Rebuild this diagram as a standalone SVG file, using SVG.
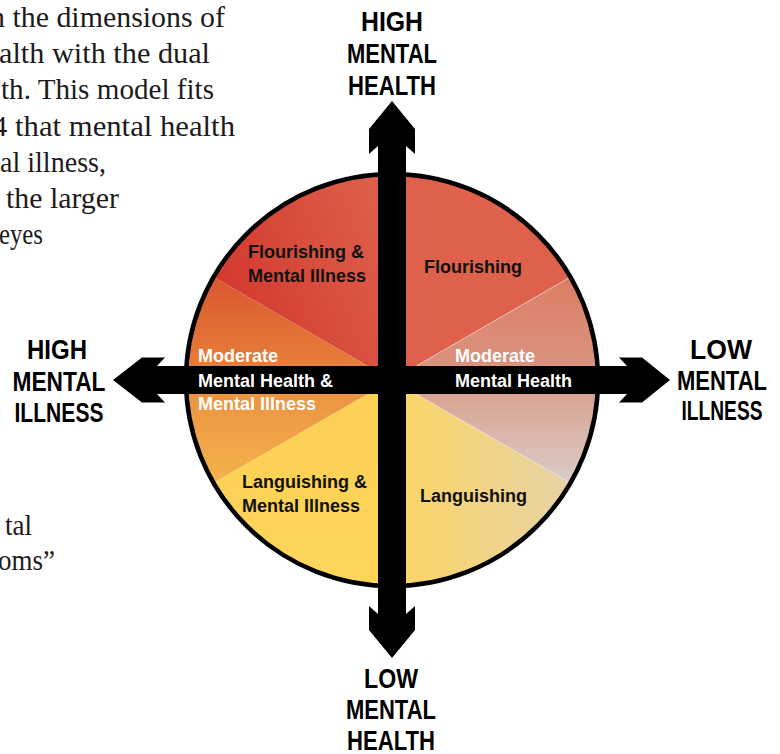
<svg xmlns="http://www.w3.org/2000/svg" width="780" height="754" viewBox="0 0 780 754">
  <defs>
    <linearGradient id="gFlourMI" gradientUnits="userSpaceOnUse" x1="214" y1="300" x2="392" y2="230">
      <stop offset="0" stop-color="#D3372D"/>
      <stop offset="1" stop-color="#DD5F4B"/>
    </linearGradient>
    <linearGradient id="gModUL" gradientUnits="userSpaceOnUse" x1="0" y1="277" x2="0" y2="380">
      <stop offset="0" stop-color="#DA5630"/>
      <stop offset="1" stop-color="#E8853B"/>
    </linearGradient>
    <linearGradient id="gModLL" gradientUnits="userSpaceOnUse" x1="0" y1="380" x2="0" y2="483">
      <stop offset="0" stop-color="#EA8F40"/>
      <stop offset="1" stop-color="#F4B34C"/>
    </linearGradient>
    <linearGradient id="gLangMI" gradientUnits="userSpaceOnUse" x1="0" y1="420" x2="0" y2="586">
      <stop offset="0" stop-color="#FCD055"/>
      <stop offset="1" stop-color="#FDD65A"/>
    </linearGradient>
    <linearGradient id="gLang" gradientUnits="userSpaceOnUse" x1="392" y1="0" x2="590" y2="0">
      <stop offset="0" stop-color="#FCD563"/>
      <stop offset="1" stop-color="#E4D2AD"/>
    </linearGradient>
    <linearGradient id="gModLR" gradientUnits="userSpaceOnUse" x1="0" y1="380" x2="0" y2="483">
      <stop offset="0" stop-color="#D99D89"/>
      <stop offset="1" stop-color="#DBCCC8"/>
    </linearGradient>
    <linearGradient id="gModUR" gradientUnits="userSpaceOnUse" x1="0" y1="277" x2="0" y2="380">
      <stop offset="0" stop-color="#DC7D65"/>
      <stop offset="1" stop-color="#DA9682"/>
    </linearGradient>
    <style>
      .body { font-family: "Liberation Serif", "Times New Roman", serif; font-size: 29px; fill: #1E1B1C; }
      .axis { font-family: "Liberation Sans", Arial, sans-serif; font-weight: bold; font-size: 27px; fill: #000; text-anchor: middle; }
      .zone { font-family: "Liberation Sans", Arial, sans-serif; font-weight: bold; font-size: 18px; fill: #111; }
      .zone.light { fill: #FFFFFF; }
      .seam { stroke: #F3E6E0; stroke-width: 0.8; stroke-opacity: 0.7; }
    </style>
  </defs>

  <!-- running text of the page, cut off at the left margin -->
  <g id="body-text" class="body">
    <text x="-10" y="27" textLength="235" lengthAdjust="spacingAndGlyphs">n the dimensions of</text>
    <text x="-1" y="63" textLength="211" lengthAdjust="spacingAndGlyphs">alth with the dual</text>
    <text x="1" y="99" textLength="213" lengthAdjust="spacingAndGlyphs">th. This model fits</text>
    <text x="-8" y="136" textLength="243" lengthAdjust="spacingAndGlyphs">4 that mental health</text>
    <text x="0" y="172" textLength="106" lengthAdjust="spacingAndGlyphs">al illness,</text>
    <text x="6" y="208" textLength="113" lengthAdjust="spacingAndGlyphs">the larger</text>
    <text x="-1" y="244" textLength="44" lengthAdjust="spacingAndGlyphs">eyes</text>
    <text x="5" y="535" textLength="27" lengthAdjust="spacingAndGlyphs">tal</text>
    <text x="-2" y="570" textLength="57" lengthAdjust="spacingAndGlyphs">oms”</text>
  </g>

  <!-- disc split into eight sectors at 30 degree boundaries -->
  <g id="disc">
    <path id="sector-flourishing-mi" d="M392,380 L392,174 A206,206 0 0 0 213.6,277 Z" fill="url(#gFlourMI)"/>
    <path id="sector-moderate-ul" d="M392,380 L213.6,277 A206,206 0 0 0 186,380 Z" fill="url(#gModUL)"/>
    <path id="sector-moderate-ll" d="M392,380 L186,380 A206,206 0 0 0 213.6,483 Z" fill="url(#gModLL)"/>
    <path id="sector-languishing-mi" d="M392,380 L213.6,483 A206,206 0 0 0 392,586 Z" fill="url(#gLangMI)"/>
    <path id="sector-languishing" d="M392,380 L392,586 A206,206 0 0 0 570.4,483 Z" fill="url(#gLang)"/>
    <path id="sector-moderate-lr" d="M392,380 L570.4,483 A206,206 0 0 0 598,380 Z" fill="url(#gModLR)"/>
    <path id="sector-moderate-ur" d="M392,380 L598,380 A206,206 0 0 0 570.4,277 Z" fill="url(#gModUR)"/>
    <path id="sector-flourishing" d="M392,380 L570.4,277 A206,206 0 0 0 392,174 Z" fill="#DE614C"/>
    <line class="seam" x1="392" y1="380" x2="570.4" y2="277"/>
    <line class="seam" x1="392" y1="380" x2="570.4" y2="483"/>
    <circle cx="392" cy="380" r="206" fill="none" stroke="#000" stroke-width="4.5"/>
  </g>

  <!-- the two double-headed axes -->
  <g id="connectors" fill="#000">
    <path id="axis-horizontal" d="M113,380 L142,357.5 L165,357.5 L157,366 L627,366 L619,357.5 L642,357.5 L670,380 L642,402.5 L619,402.5 L627,394 L157,394 L165,402.5 L142,402.5 Z"/>
    <path id="axis-vertical" d="M392,101 L415,129 L415,154 L406,146 L406,614 L415,606 L415,630 L392,658 L369,630 L369,606 L378,614 L378,146 L369,154 L369,129 Z"/>
  </g>

  <!-- axis end labels -->
  <g id="label-high-mental-health" class="axis">
    <text x="392" y="31" textLength="62" lengthAdjust="spacingAndGlyphs">HIGH</text>
    <text x="392" y="63" textLength="90" lengthAdjust="spacingAndGlyphs">MENTAL</text>
    <text x="392" y="95" textLength="88" lengthAdjust="spacingAndGlyphs">HEALTH</text>
  </g>
  <g id="label-low-mental-health" class="axis">
    <text x="391" y="688" textLength="54" lengthAdjust="spacingAndGlyphs">LOW</text>
    <text x="391" y="719" textLength="90" lengthAdjust="spacingAndGlyphs">MENTAL</text>
    <text x="391" y="750" textLength="88" lengthAdjust="spacingAndGlyphs">HEALTH</text>
  </g>
  <g id="label-high-mental-illness" class="axis">
    <text x="57" y="359" textLength="60" lengthAdjust="spacingAndGlyphs">HIGH</text>
    <text x="59" y="391" textLength="93" lengthAdjust="spacingAndGlyphs">MENTAL</text>
    <text x="59" y="422" textLength="89" lengthAdjust="spacingAndGlyphs">ILLNESS</text>
  </g>
  <g id="label-low-mental-illness" class="axis">
    <text x="721" y="359" textLength="62" lengthAdjust="spacingAndGlyphs">LOW</text>
    <text x="722" y="390" textLength="90" lengthAdjust="spacingAndGlyphs">MENTAL</text>
    <text x="722" y="420" textLength="81" lengthAdjust="spacingAndGlyphs">ILLNESS</text>
  </g>

  <!-- sector captions -->
  <g id="zone-flourishing-mi" class="zone">
    <text x="248" y="258">Flourishing &amp;</text>
    <text x="248" y="282">Mental Illness</text>
  </g>
  <g id="zone-flourishing" class="zone">
    <text x="424" y="273">Flourishing</text>
  </g>
  <g id="zone-moderate-mi" class="zone light">
    <text x="198" y="362">Moderate</text>
    <text x="198" y="387">Mental Health &amp;</text>
    <text x="198" y="410">Mental Illness</text>
  </g>
  <g id="zone-moderate" class="zone light">
    <text x="455" y="362">Moderate</text>
    <text x="455" y="387">Mental Health</text>
  </g>
  <g id="zone-languishing-mi" class="zone">
    <text x="242" y="488">Languishing &amp;</text>
    <text x="242" y="512">Mental Illness</text>
  </g>
  <g id="zone-languishing" class="zone">
    <text x="420" y="502">Languishing</text>
  </g>
</svg>
